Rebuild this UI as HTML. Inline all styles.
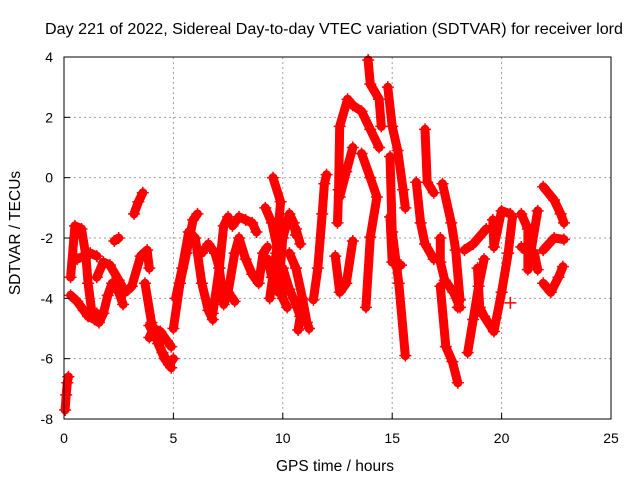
<!DOCTYPE html>
<html><head><meta charset="utf-8"><style>
body{margin:0;background:#fff}
svg{display:block;font-family:"Liberation Sans",sans-serif}
</style></head><body>
<svg id="chart" width="640" height="480" xmlns="http://www.w3.org/2000/svg">
<rect width="640" height="480" fill="#fff"/>
<text x="334" y="34" font-size="15.8" text-anchor="middle" textLength="578" lengthAdjust="spacingAndGlyphs">Day 221 of 2022, Sidereal Day-to-day VTEC variation (SDTVAR) for receiver lord</text>
<g id="grid"></g>
<g id="marks"></g>
<rect x="64" y="57" width="547" height="362" fill="none" stroke="#000" stroke-width="1"/>
<g id="axes"></g>
<text x="335" y="471" font-size="15.5" text-anchor="middle">GPS time / hours</text>
<text transform="translate(20,233) rotate(-90)" font-size="15.5" text-anchor="middle">SDTVAR / TECUs</text>
</svg>
<script>
const xTicks=[0,5,10,15,20,25];
const yTicks=[-8,-6,-4,-2,0,2,4];
const t01=[[0.05,-7.7],[0.1,-7.2],[0.15,-6.8],[0.2,-6.6]];
const t02=[[0.3,-3.3],[0.5,-1.6],[0.8,-1.7],[1.0,-2.6],[1.1,-3.5],[1.3,-4.6],[1.5,-4.5]];
const t03=[[0.3,-3.9],[0.6,-4.1],[0.9,-4.4],[1.1,-4.6],[1.4,-4.7],[1.6,-4.8],[1.8,-4.5],[2.0,-3.9],[2.2,-3.5],[2.5,-3.8],[2.7,-4.2]];
const t04=[[0.6,-2.7],[0.9,-2.6],[1.2,-2.5],[1.5,-2.6]];
const t05=[[1.5,-3.3],[1.8,-2.8],[2.1,-2.9],[2.5,-3.4],[2.8,-3.8],[3.1,-3.6],[3.5,-2.6],[3.8,-2.4],[3.9,-3.0]];
const t06=[[2.3,-2.1],[2.5,-2.0]];
const t07=[[3.2,-1.2],[3.4,-0.8],[3.6,-0.5]];
const t08=[[3.7,-3.5],[4.0,-4.8],[4.3,-5.5],[4.6,-6.0],[4.9,-6.3]];
const t09=[[3.9,-4.9],[4.2,-5.3],[4.5,-5.8],[4.8,-6.2],[5.0,-6.0]];
const t09b=[[3.9,-5.3],[4.1,-5.0],[4.4,-5.1],[4.7,-5.4],[4.9,-5.6]];
const t10=[[5.0,-5.0],[5.3,-3.5],[5.6,-2.5],[5.9,-1.4],[6.1,-1.2]];
const t11=[[5.1,-4.0],[5.4,-3.0],[5.7,-1.8],[6.0,-2.0],[6.3,-3.5],[6.6,-4.4],[6.8,-4.7]];
const t12=[[6.3,-2.5],[6.6,-2.2],[6.9,-2.5],[7.1,-3.0],[7.3,-4.2],[7.5,-3.8],[7.8,-4.1]];
const t13=[[6.8,-4.5],[7.1,-3.0],[7.3,-1.6],[7.5,-1.3]];
const t14=[[7.7,-1.6],[8.0,-1.3],[8.3,-1.4],[8.6,-1.5],[8.8,-1.8]];
const t15=[[7.5,-3.8],[7.8,-2.5],[8.0,-2.0],[8.3,-2.7],[8.6,-3.2],[8.9,-3.5],[9.1,-2.5],[9.3,-2.3]];
const t16=[[9.2,-1.0],[9.5,-1.5],[9.8,-2.5],[10.0,-4.0],[10.2,-4.3]];
const t17=[[9.3,-2.7],[9.5,-3.3],[9.8,-3.8],[10.0,-2.0],[10.3,-1.2],[10.5,-1.5],[10.6,-1.9]];
const t18=[[9.4,-4.0],[9.7,-2.5],[9.9,-0.8],[9.55,0.0]];
const t19=[[10.3,-2.5],[10.6,-3.0],[10.9,-4.0],[11.1,-4.8],[11.2,-5.0]];
const t20=[[10.0,-3.0],[10.3,-3.7],[10.6,-4.2],[10.8,-4.6],[10.7,-5.05]];
const t21=[[10.35,-1.5],[10.6,-1.7],[10.8,-2.2]];
const t22=[[11.4,-4.05],[11.6,-3.0],[11.8,-1.2],[11.9,-0.2],[12.0,0.1]];
const t23=[[12.4,-2.6],[12.6,-3.8],[12.9,-3.5],[13.2,-2.1]];
const t24=[[12.5,-1.5],[12.55,-0.4],[12.6,1.7],[12.96,2.6],[13.2,2.4],[13.6,2.2],[14.0,1.6],[14.4,1.0]];
const t25=[[13.2,1.0],[12.9,0.2],[12.6,-0.64]];
const t26=[[13.6,0.8],[14.0,0.0],[14.3,-0.64],[14.0,-1.97],[13.8,-4.3]];
const t27=[[13.9,3.9],[14.0,3.1],[14.4,2.6],[14.5,1.7]];
const t28=[[14.8,3.0],[15.0,1.7],[15.25,0.9],[15.5,-0.4],[15.6,-1.0]];
const t29=[[14.9,0.7],[15.0,-1.8],[15.3,-3.5],[15.6,-5.9]];
const t30=[[14.9,-1.3],[15.0,-2.8],[15.4,-2.9]];
const t31=[[16.1,-0.15],[16.3,-1.5],[16.5,-2.2],[16.9,-2.7]];
const t32=[[16.5,1.6],[16.6,-0.15],[16.9,-0.5]];
const t33=[[17.3,-0.2],[17.7,-1.5],[17.9,-2.4],[18.1,-4.05],[18.0,-4.3]];
const t34=[[17.2,-2.0],[17.2,-2.8],[17.4,-3.4],[17.8,-3.8],[18.1,-4.3]];
const t35=[[17.2,-3.6],[17.45,-5.6],[17.75,-6.1],[18.0,-6.8]];
const t36=[[18.45,-5.8],[18.7,-4.7],[18.95,-3.6],[19.2,-2.7]];
const t37=[[18.3,-2.4],[18.7,-2.2],[19.3,-1.7]];
const t38=[[18.9,-3.0],[19.0,-4.3],[19.2,-4.6],[19.65,-5.1],[20.0,-3.8],[20.3,-2.5],[20.5,-1.3]];
const t39=[[19.6,-1.4],[19.65,-2.3],[20.0,-1.1],[20.4,-1.2]];
const t40=[[20.9,-1.2],[21.2,-1.7],[21.2,-2.5],[21.2,-3.05],[21.65,-1.1]];
const t41=[[20.9,-2.3],[21.5,-2.5],[21.65,-3.05]];
const t42=[[20.4,-4.15]];
const t43=[[21.9,-0.3],[22.4,-0.74],[22.7,-1.2],[22.85,-1.5]];
const t44=[[21.9,-2.4],[22.4,-2.0],[22.85,-2.05]];
const t45=[[21.9,-3.5],[22.25,-3.8],[22.6,-3.3],[22.8,-2.95]];
const tracks=[t01,t02,t03,t04,t05,t06,t07,t08,t09,t09b,t10,t11,t12,t13,t14,t15,t16,t17,t18,t19,t20,t21,t22,t23,t24,t25,t26,t27,t28,t29,t30,t31,t32,t33,t34,t35,t36,t37,t38,t39,t40,t41,t42,t43,t44,t45];

const NS='http://www.w3.org/2000/svg';
const X0=64,X1=611,Y0=419,Y1=57;
const xs=v=>X0+(v-0)/(25-0)*(X1-X0);
const ys=v=>Y0-(v-(-8))/(4-(-8))*(Y0-Y1);
const grid=document.getElementById('grid'),axes=document.getElementById('axes'),marks=document.getElementById('marks');
function mk(tag,attrs,parent){const e=document.createElementNS(NS,tag);for(const k in attrs)e.setAttribute(k,attrs[k]);parent.appendChild(e);return e;}
xTicks.forEach(t=>{
  const x=xs(t);
  if(t>0&&t<25){const g=mk('line',{x1:x,x2:x,y1:Y1,y2:Y0,stroke:'#a0a0a0','stroke-dasharray':'2,3'},grid);
  
  }
  const tk=mk('line',{x1:x,x2:x,y1:Y0,y2:Y0-6,stroke:'#000'},axes);
  
  
  const tx=mk('text',{x:x,y:443,'font-size':14,'text-anchor':'middle'},axes);tx.textContent=t;
  
  
});
yTicks.forEach(t=>{
  const y=ys(t);
  if(t>-8&&t<4){const g=mk('line',{x1:X0,x2:X1,y1:y,y2:y,stroke:'#a0a0a0','stroke-dasharray':'2,3'},grid);
  
  }
  const tk=mk('line',{x1:X0,x2:X0+6,y1:y,y2:y,stroke:'#000'},axes);
  
  
  const tx=mk('text',{x:53,y:y+5,'font-size':14,'text-anchor':'end'},axes);tx.textContent=t;
  
  
});
tracks.forEach((tr,i)=>{
  const pts=tr.map(p=>xs(p[0]).toFixed(1)+','+ys(p[1]).toFixed(1)).join(' ');
  const pl=mk('polyline',{points:pts,fill:'none',stroke:'#ff0000','stroke-width':9,'stroke-linejoin':'round','stroke-linecap':'round'},marks);
  
  
  tr.forEach(p=>{
    const x=xs(p[0]),y=ys(p[1]);
    const m=mk('path',{d:`M${x-6},${y}H${x+6}M${x},${y-6}V${y+6}`,stroke:'#ff0000','stroke-width':1.5},marks);
    
    
  });
});
</script>
</body></html>
